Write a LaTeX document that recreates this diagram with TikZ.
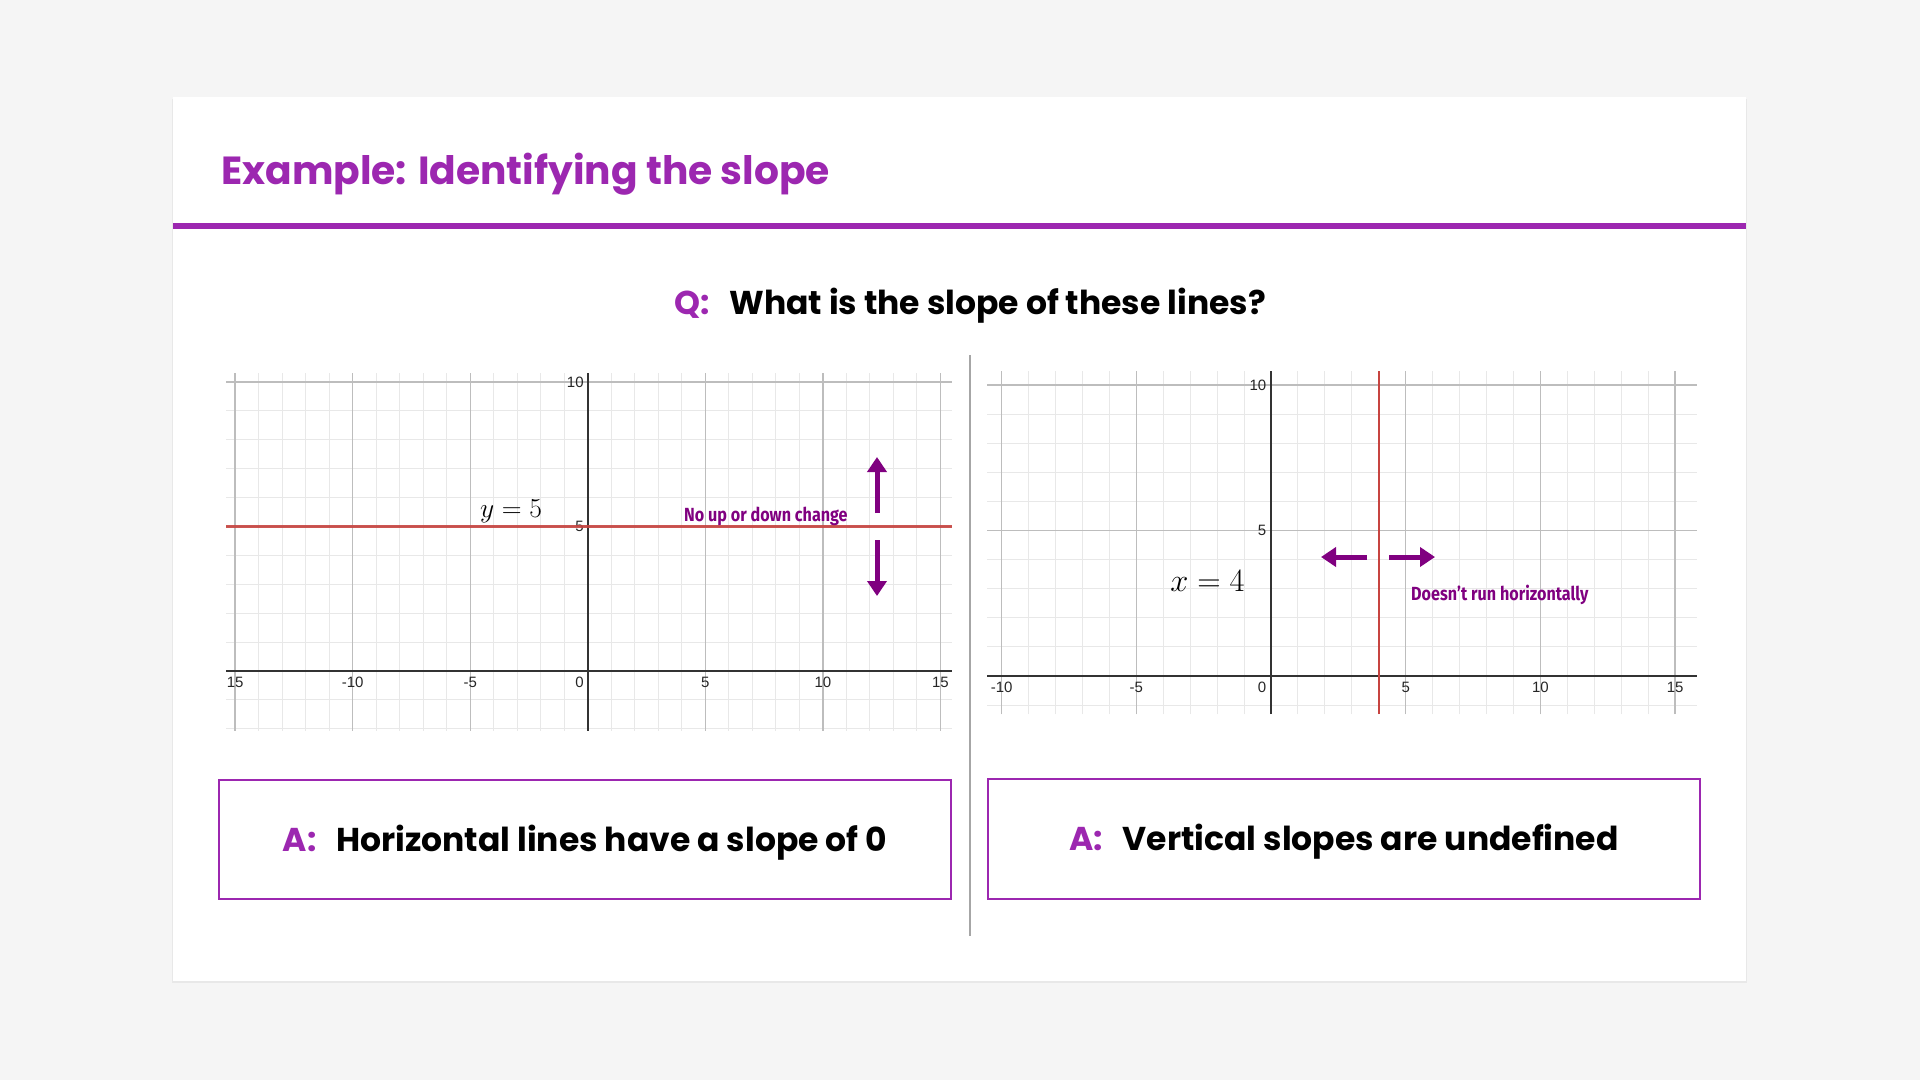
\documentclass[tikz,border=0pt]{standalone}
\usepackage{fontspec}
\usetikzlibrary{arrows.meta,positioning}
\newfontfamily\headfont{Poppins}
\newfontfamily\notefont{Fira Sans}[FakeStretch=0.85]
\newfontfamily\tickfont{Liberation Sans}
\definecolor{slidebg}{HTML}{F5F5F5}
\definecolor{accent}{HTML}{9C27B0}
\definecolor{notecol}{HTML}{800080}
\definecolor{graphred}{HTML}{C74440}
\definecolor{minorgrid}{HTML}{E8E8E8}
\definecolor{majorgrid}{HTML}{BDBDBD}

\begin{document}
\begin{tikzpicture}[x=1pt,y=-1pt,
minor/.style={minorgrid,line width=1pt},
major/.style={majorgrid,line width=1.4pt},
axisline/.style={black!80,line width=1.6pt},
tick/.style={font=\tickfont\fontsize{15}{15}\selectfont,text=black!85,inner sep=0pt},
note/.style={font=\notefont\bfseries\fontsize{19}{19}\selectfont,text=notecol,inner sep=0pt,anchor=base west},
eqlabel/.style={font=\fontsize{24.88}{25}\selectfont,anchor=base west,inner sep=0pt},
movearrow/.style={notecol,line width=5pt,-{Triangle[width=19pt,length=15pt]}},
answer/.style={draw=accent,line width=2.5pt,fill=white,inner sep=0pt,text height=23pt,text depth=0pt,
	font=\headfont\bfseries\fontsize{33}{33}\selectfont},
]
	\useasboundingbox (0,0) rectangle (1920,1080);
	\fill[slidebg] (0,0) rectangle (1920,1080);
	\fill[black!9] (172,99) rectangle (1747,983);
	\fill[white] (173,97) rectangle (1746,981);

	\node[font=\headfont\bfseries\fontsize{39.2}{40}\selectfont,text=accent,anchor=base west,inner sep=0pt] (title) at (221,184) {Example: Identifying the slope};
	\fill[accent] (173,223) rectangle (1746,229);

	\node[font=\headfont\bfseries\fontsize{33}{33}\selectfont,anchor=base,inner sep=0pt] (question) at (970,314)
		{\textcolor{accent}{Q:}\hspace{0.6em}What is the slope of these lines?};

	\draw[black!35,line width=2pt] (970,355) -- (970,936);

	% y = 5
	\begin{scope}[shift={(587.8,671)},x=23.51pt,y=28.9pt]
		\foreach \i in {-15,...,15} \draw[minor] (\i,-2.07) -- (\i,10.3);
		\foreach \j in {-2,...,10} \draw[minor] (-15.37,\j) -- (15.47,\j);
		\foreach \i in {-15,-10,-5,5,10,15} \draw[major] (\i,-2.07) -- (\i,10.3);
		\foreach \j in {5,10} \draw[major] (-15.37,\j) -- (15.47,\j);
		\draw[axisline] (-15.37,0) -- (15.47,0);
		\draw[axisline] (0,-2.07) -- (0,10.3);
		\foreach \i/\t in {-15/15,-10/-10,-5/-5,5/5,10/10,15/15}
			\node[tick] (hx\t) at (\i,-0.38) {\t};
		\node[tick,anchor=east] (horigin) at (-0.17,-0.38) {0};
		\node[tick,anchor=east] (hy5) at (-0.17,5) {5};
		\node[tick,anchor=east] (hy10) at (-0.17,10) {10};
		\draw[graphred,line width=3pt,opacity=0.9] (-15.37,5) -- (15.47,5);
	\end{scope}
	\node[eqlabel,scale=1.105] (yeq) at (480,517) {$y=5$};
	\node[note] (noupdown) at (684,521) {No up or down change};
	\coordinate (uptail) at (877,513);
	\coordinate (uptip) at (877,457);
	\coordinate (downtail) at (877,540);
	\coordinate (downtip) at (877,596);
	\draw[movearrow] (uptail) -- (uptip);
	\draw[movearrow] (downtail) -- (downtip);

	% x = 4
	\begin{scope}[shift={(1271,675.9)},x=26.94pt,y=29.1pt]
		\foreach \i in {-10,...,15} \draw[minor] (\i,-1.31) -- (\i,10.48);
		\foreach \j in {-1,...,10} \draw[minor] (-10.54,\j) -- (15.8,\j);
		\foreach \i in {-10,-5,5,10,15} \draw[major] (\i,-1.31) -- (\i,10.48);
		\foreach \j in {5,10} \draw[major] (-10.54,\j) -- (15.8,\j);
		\draw[axisline] (-10.54,0) -- (15.8,0);
		\draw[axisline] (0,-1.31) -- (0,10.48);
		\foreach \i in {-10,-5,5,10,15}
			\node[tick] (vx\i) at (\i,-0.38) {\i};
		\node[tick,anchor=east] (vorigin) at (-0.17,-0.38) {0};
		\node[tick,anchor=east] (vy5) at (-0.17,5) {5};
		\node[tick,anchor=east] (vy10) at (-0.17,10) {10};
		\draw[graphred,line width=2pt] (4,-1.31) -- (4,10.48);
	\end{scope}
	\node[eqlabel,scale=1.306] (xeq) at (1170,591) {$x=4$};
	\node[note] (nohoriz) at (1411,600) {Doesn’t run horizontally};
	\coordinate (lefttail) at (1367,557);
	\coordinate (lefttip) at (1321,557);
	\coordinate (righttail) at (1389,557);
	\coordinate (righttip) at (1435,557);
	\draw[movearrow] (lefttail) -- (lefttip);
	\draw[movearrow] (righttail) -- (righttip);

	\node[answer,minimum width=732pt,minimum height=119pt] (ansflat) at (585,839.5)
		{\textcolor{accent}{A:}\hspace{0.6em}Horizontal lines have a slope of 0};
	\node[answer,minimum width=712pt,minimum height=120pt] (ansvert) at (1344,839)
		{\textcolor{accent}{A:}\hspace{0.6em}Vertical slopes are undefined};
\end{tikzpicture}
\end{document}
